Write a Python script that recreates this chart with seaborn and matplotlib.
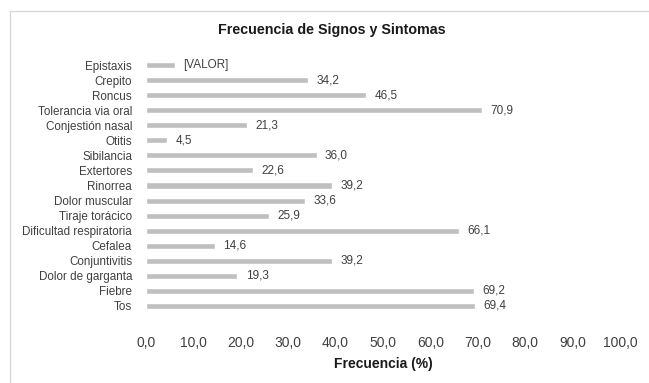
import matplotlib
matplotlib.use("Agg")
import matplotlib.pyplot as plt
import seaborn as sns
import pandas as pd
from matplotlib.patches import Rectangle

categories = ["Epistaxis", "Crepito", "Roncus", "Tolerancia via oral", "Conjestión nasal",
              "Otitis", "Sibilancia", "Extertores", "Rinorrea", "Dolor muscular",
              "Tiraje torácico", "Dificultad respiratoria", "Cefalea", "Conjuntivitis",
              "Dolor de garganta", "Fiebre", "Tos"]
values = [6.1, 34.2, 46.5, 70.9, 21.3, 4.5, 36.0, 22.6, 39.2, 33.6, 25.9, 66.1, 14.6,
          39.2, 19.3, 69.2, 69.4]
value_labels = ["[VALOR]"] + [f"{v:.1f}".replace(".", ",") for v in values[1:]]
x_ticks = [0, 10, 20, 30, 40, 50, 60, 70, 80, 90, 100]
x_tick_labels = [f"{t:.1f}".replace(".", ",") for t in x_ticks]

sns.set_style("white")
plt.rcParams["font.family"] = ["Liberation Sans", "DejaVu Sans"]

W, H = 649, 383
fig = plt.figure(figsize=(W / 100, H / 100), dpi=100)
fig.patch.set_facecolor("white")

# outer chart-area border (light gray), extends past right/bottom edges
fig.patches.append(Rectangle((10 / W, -0.1), 1.2, 1 - 11 / H + 0.1,
                             transform=fig.transFigure, fill=False,
                             edgecolor="#d9d9d9", linewidth=1.0))

ax = fig.add_axes([146 / W, 1 - 313.5 / H, (620 - 146) / W, (313.5 - 57.5) / H])
df = pd.DataFrame({"cat": categories, "val": values})
sns.barplot(data=df, x="val", y="cat", orient="h", color="#bfbfbf", saturation=1,
            width=0.4, ax=ax)
ax.bar_label(ax.containers[0], labels=value_labels, padding=6, fontsize=8.5,
             color="#404040")

ax.set_xlim(0, 100)
ax.set_xticks(x_ticks)
ax.set_xticklabels(x_tick_labels, fontsize=10, color="#404040")
ax.tick_params(axis="x", length=0, pad=16)
ax.tick_params(axis="y", length=0, pad=10, labelsize=8.4, labelcolor="#404040")
ax.set_xlabel("")
ax.set_ylabel("")
for s in ax.spines.values():
    s.set_visible(False)
ax.set_facecolor("white")

fig.text(332 / W, 1 - 30 / H, "Frecuencia de Signos y Sintomas", ha="center", va="center",
         fontsize=10.3, fontweight="bold", color="#1a1a1a")
fig.text(383 / W, 1 - 364 / H, "Frecuencia (%)", ha="center", va="center",
         fontsize=10, fontweight="bold", color="#1a1a1a")

fig.savefig("out.png", dpi=100, facecolor="white")
